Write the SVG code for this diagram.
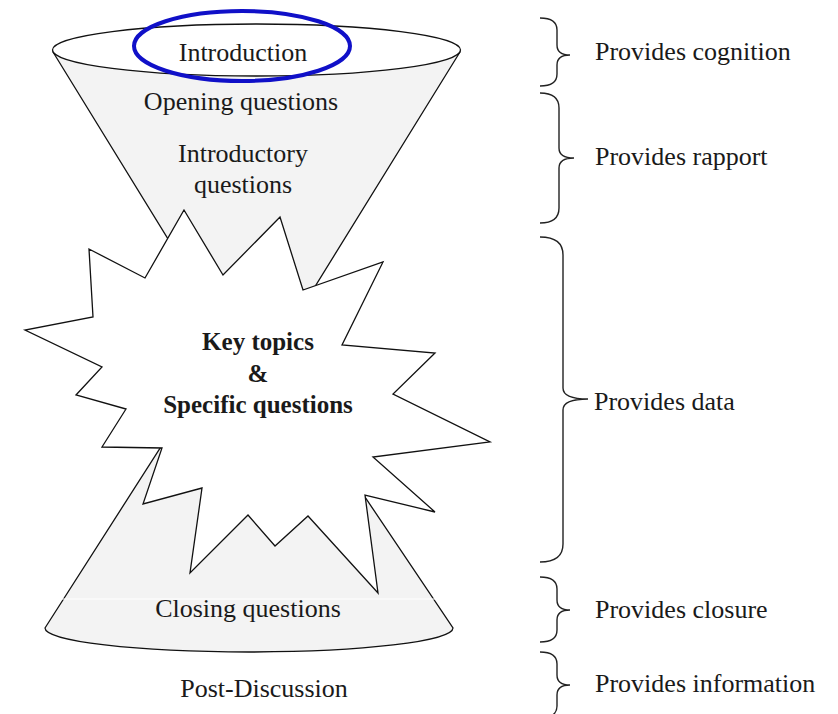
<svg xmlns="http://www.w3.org/2000/svg" width="838" height="714" viewBox="0 0 838 714">
<style>
.shape{stroke:#111;stroke-width:1.3;stroke-linejoin:miter}
.cone{fill:#f3f3f3}
.t{font-family:"Liberation Serif","Times New Roman",serif;font-size:26px;fill:#1a1a1a;text-anchor:middle}
.b{font-weight:bold;font-size:25px}
.l{font-family:"Liberation Serif","Times New Roman",serif;font-size:26px;fill:#1a1a1a}
.brace{fill:none;stroke:#222;stroke-width:1.4}
</style>
<rect width="838" height="714" fill="#fff"/>
<g id="top-funnel">
<path class="shape cone" d="M53,52 L256,382 L460,52 Z"/>
</g>
<g id="bottom-funnel">
<path class="shape cone" d="M45,628 L244,317 L453,628 A204,24 0 0 1 45,628 Z"/>
<line x1="62" y1="599" x2="436" y2="599" stroke="#fff" stroke-width="1"/>
</g>
<g id="star">
<path class="shape" fill="#fff" d="M184,210 L223,275 L280,217 L303,290 L383,262 L342,345 L435,353 L393,394 L490,442 L373,457 L435,512 L365,495 L378,593 L308,516 L275,546 L248,515 L190,573 L202,488 L143,504 L162,448 L102,447 L126,409 L76,395 L102,367 L25,330 L93,317 L89,249 L145,278 Z"/>
</g>
<g id="top-ellipse">
<ellipse class="shape" fill="#fff" cx="256.5" cy="50" rx="204" ry="26"/>
</g>
<g id="labels-left">
<text class="t" x="243" y="61">Introduction</text>
<text class="t" x="241" y="110">Opening questions</text>
<text class="t" x="243" y="162">Introductory</text>
<text class="t" x="243" y="193">questions</text>
<text class="t b" x="258" y="350">Key topics</text>
<text class="t b" x="258" y="382">&amp;</text>
<text class="t b" x="258" y="413">Specific questions</text>
<text class="t" x="248" y="617">Closing questions</text>
<text class="t" x="264" y="697">Post-Discussion</text>
</g>
<g id="highlight">
<ellipse cx="242" cy="46" rx="108" ry="35" fill="none" stroke="#1010c8" stroke-width="4"/>
</g>
<g id="connectors">
<path class="brace" d="M540,18 Q557,18 557,30 L557,45 Q557,55 570,55 Q557,55 557,65 L557,74 Q557,86 540,86"/>
<path class="brace" d="M540,93 Q559,93 559,108 L559,148 Q559,158 574,158 Q559,158 559,168 L559,208 Q559,223 540,223"/>
<path class="brace" d="M540,237 Q563,237 563,255 L563,388 Q563,399 588,399 Q563,399 563,410 L563,544 Q563,562 540,562"/>
<path class="brace" d="M540,577 Q557,577 557,589 L557,600 Q557,610 570,610 Q557,610 557,620 L557,630 Q557,642 540,642"/>
<path class="brace" d="M540,652 Q557,652 557,664 L557,675 Q557,685 570,685 Q557,685 557,695 L557,706 Q557,718 540,718"/>
</g>
<g id="labels-right">
<text class="l" x="595" y="60">Provides cognition</text>
<text class="l" x="595" y="165">Provides rapport</text>
<text class="l" x="594" y="410">Provides data</text>
<text class="l" x="595" y="618">Provides closure</text>
<text class="l" x="595" y="692">Provides information</text>
</g>
</svg>
